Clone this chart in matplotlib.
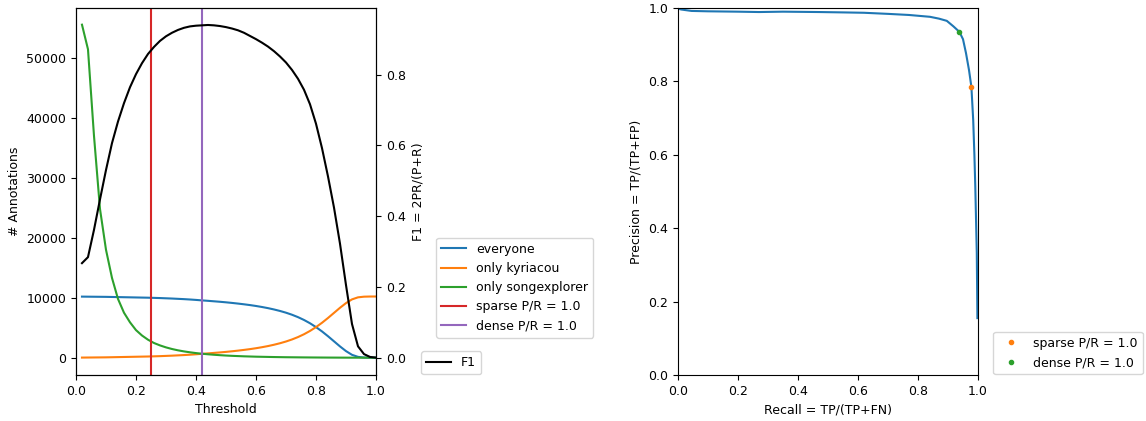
import matplotlib
matplotlib.use("Agg")
import matplotlib.pyplot as plt
import numpy as np

plt.rcParams['font.size'] = 9

# thresholds 0.02 .. 1.00
threshold = np.round(np.linspace(0.02, 1.0, 50), 2)

everyone = [10180, 10170, 10160, 10150, 10140, 10120, 10100, 10080, 10060, 10040,
            10020, 10000, 9970, 9940, 9900, 9860, 9810, 9760, 9700, 9630,
            9550, 9480, 9400, 9320, 9230, 9130, 9020, 8900, 8770, 8620,
            8450, 8260, 8040, 7790, 7500, 7160, 6760, 6290, 5740, 5100,
            4380, 3580, 2730, 1880, 1100, 480, 140, 30, 5, 0]
only_kyriacou = [20, 30, 40, 50, 60, 80, 100, 120, 140, 160,
                 180, 200, 230, 260, 300, 340, 390, 440, 500, 570,
                 650, 720, 800, 880, 970, 1070, 1180, 1300, 1430, 1580,
                 1750, 1940, 2160, 2410, 2700, 3040, 3440, 3910, 4460, 5100,
                 5820, 6620, 7470, 8320, 9100, 9720, 10060, 10170, 10195, 10200]
only_songexplorer = [55500, 51400, 37000, 24800, 18000, 13300, 9800, 7500, 5900, 4600,
                     3700, 3000, 2450, 2050, 1720, 1450, 1230, 1050, 900, 770,
                     660, 570, 490, 420, 360, 310, 270, 230, 200, 170,
                     150, 130, 110, 95, 80, 70, 60, 50, 42, 35,
                     28, 22, 17, 12, 8, 5, 3, 2, 1, 0]
f1 = [0.267, 0.284, 0.361, 0.447, 0.530, 0.606, 0.667, 0.719, 0.764, 0.801,
      0.832, 0.858, 0.878, 0.895, 0.908, 0.918, 0.926, 0.932, 0.936, 0.938,
      0.939, 0.940, 0.939, 0.937, 0.934, 0.930, 0.925, 0.918, 0.909, 0.900,
      0.890, 0.879, 0.866, 0.851, 0.834, 0.813, 0.788, 0.757, 0.716, 0.661,
      0.592, 0.512, 0.424, 0.322, 0.205, 0.095, 0.032, 0.010, 0.002, 0.0]

sparse_thresh = 0.25
dense_thresh = 0.42

# precision-recall curve
recall = [0.0, 0.002, 0.01, 0.045, 0.1, 0.2, 0.27, 0.35, 0.47, 0.55, 0.62, 0.70,
          0.77, 0.84, 0.87, 0.896, 0.918, 0.938, 0.95, 0.96, 0.970, 0.978,
          0.984, 0.988, 0.991, 0.996, 0.998]
precision = [1.0, 0.998, 0.996, 0.992, 0.991, 0.990, 0.989, 0.990, 0.989, 0.988, 0.987, 0.984,
             0.981, 0.976, 0.971, 0.965, 0.950, 0.935, 0.915, 0.877, 0.831, 0.785,
             0.695, 0.600, 0.513, 0.332, 0.155]
sparse_pr = (0.978, 0.785)
dense_pr = (0.938, 0.935)

fig = plt.figure(figsize=(11.46, 4.21), dpi=100)
ax = fig.add_axes([0.0663, 0.1093, 0.2618, 0.8717])
ax.plot(threshold, everyone, label="everyone")
ax.plot(threshold, only_kyriacou, label="only kyriacou")
ax.plot(threshold, only_songexplorer, label="only songexplorer")
ax.axvline(sparse_thresh, color="C3", label="sparse P/R = 1.0")
ax.axvline(dense_thresh, color="C4", label="dense P/R = 1.0")
ax.set_xlim(0, 1)
ax.set_ylim(-2880, 58280)
ax.set_xlabel("Threshold")
ax.set_ylabel("# Annotations")
fig.legend(*ax.get_legend_handles_labels(), loc="lower left",
           bbox_to_anchor=(0.3805, 0.198), borderaxespad=0)

ax2 = ax.twinx()
ax2.plot(threshold, f1, color="k", label="F1")
ax2.set_ylim(-0.049, 0.988)
ax2.set_ylabel("F1 = 2PR/(P+R)")
fig.legend(*ax2.get_legend_handles_labels(), loc="lower left",
           bbox_to_anchor=(0.3674, 0.1116), borderaxespad=0)

ax3 = fig.add_axes([0.5916, 0.1093, 0.2618, 0.8717])
ax3.plot(recall, precision)
ax3.plot(sparse_pr[0], sparse_pr[1], ".", color="C1", label="sparse P/R = 1.0")
ax3.plot(dense_pr[0], dense_pr[1], ".", color="C2", label="dense P/R = 1.0")
ax3.set_xlim(0, 1)
ax3.set_ylim(0, 1)
ax3.set_xlabel("Recall = TP/(TP+FN)")
ax3.set_ylabel("Precision = TP/(TP+FP)")
fig.legend(*ax3.get_legend_handles_labels(), loc="lower left",
           bbox_to_anchor=(0.8665, 0.1116), borderaxespad=0)

fig.savefig("out.png", dpi=100)
